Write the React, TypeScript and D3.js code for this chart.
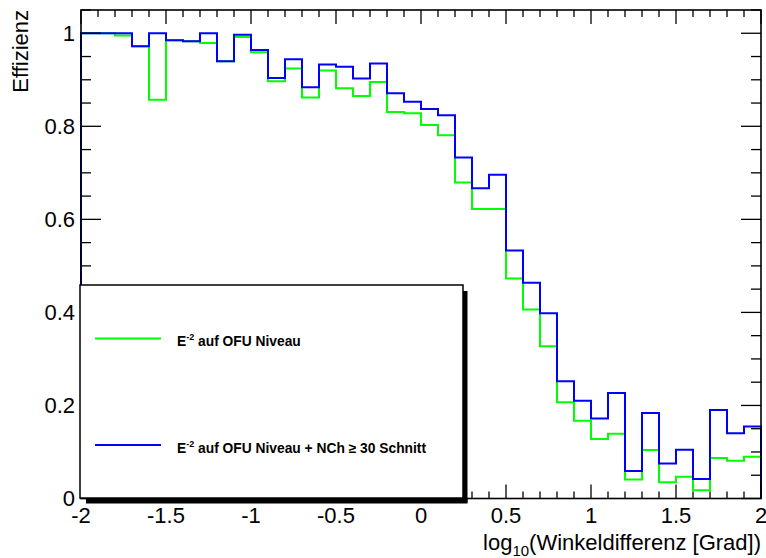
import React from "react";
import * as d3 from "d3";

// Efficiency per bin of log10(angular difference), 40 bins of 0.1 from -2 to 2
const binEdgesStart = -2;
const binWidth = 0.1;

const effOFU = [
  1.0, 1.0, 0.995, 0.972, 0.857, 0.985, 0.983, 0.979, 0.94, 0.992,
  0.959, 0.897, 0.924, 0.862, 0.92, 0.882, 0.865, 0.895, 0.831, 0.828,
  0.803, 0.781, 0.679, 0.622, 0.622, 0.473, 0.406, 0.327, 0.207, 0.167,
  0.128, 0.139, 0.041, 0.104, 0.035, 0.047, 0.018, 0.087, 0.081, 0.09,
];

const effOFUNCh = [
  1.0, 1.0, 1.0, 0.972, 1.0, 0.985, 0.983, 1.0, 0.94, 0.997,
  0.964, 0.904, 0.944, 0.884, 0.933, 0.928, 0.903, 0.935, 0.871, 0.853,
  0.837, 0.824, 0.733, 0.667, 0.696, 0.533, 0.464, 0.398, 0.252, 0.21,
  0.172, 0.227, 0.059, 0.184, 0.075, 0.105, 0.042, 0.19, 0.14, 0.155,
];

const xTickLabels = ["-2", "-1.5", "-1", "-0.5", "0", "0.5", "1", "1.5", "2"];
const yTickLabels = ["0", "0.2", "0.4", "0.6", "0.8", "1"];

const W = 766;
const H = 558;
const left = 81;
const right = 761;
const top = 10;
const bottom = 498.5;

const font = "'Liberation Sans', Arial, Helvetica, sans-serif";

const x = d3.scaleLinear().domain([-2, 2]).range([left, right]);
const y = d3.scaleLinear().domain([0, 1.05]).range([bottom, top]);

function histPoints(vals: number[]): [number, number][] {
  const pts: [number, number][] = [[binEdgesStart, 0]];
  vals.forEach((v, i) => {
    const x0 = binEdgesStart + i * binWidth;
    pts.push([x0, v]);
    pts.push([x0 + binWidth, v]);
  });
  pts.push([binEdgesStart + vals.length * binWidth, 0]);
  return pts;
}

const line = d3
  .line<[number, number]>()
  .x((d) => x(d[0]))
  .y((d) => y(d[1]));

export default function App() {
  const xMinor = d3.range(0, 41).map((i) => -2 + i * 0.1);
  const yMinor = d3.range(0, 22).map((i) => i * 0.05).filter((v) => v <= 1.05 + 1e-9);

  const isMajorX = (v: number) => Math.abs(v * 2 - Math.round(v * 2)) < 1e-6;
  const isMajorY = (v: number) => Math.abs(v * 5 - Math.round(v * 5)) < 1e-6;

  const tickColor = "#000";

  // legend box
  const lg = { x0: 80, y0: 285, x1: 463, y1: 498 };
  const sh = 4.5;

  return (
    <svg
      width={W}
      height={H}
      style={{ position: "absolute", left: 0, top: 0, background: "#fff" }}
      fontFamily={font}
    >
      <rect x={0} y={0} width={W} height={H} fill="#fff" />

      {/* histograms */}
      <path d={line(histPoints(effOFU)) || ""} fill="none" stroke="#00ff00" strokeWidth={2} />
      <path d={line(histPoints(effOFUNCh)) || ""} fill="none" stroke="#0000ff" strokeWidth={2} />

      {/* frame */}
      <rect
        x={left}
        y={top}
        width={right - left}
        height={bottom - top}
        fill="none"
        stroke="#000"
        strokeWidth={1.6}
      />

      {/* x ticks, bottom and top */}
      {xMinor.map((v, i) => {
        const len = isMajorX(v) ? 14 : 7;
        return (
          <g key={"xt" + i}>
            <line x1={x(v)} x2={x(v)} y1={bottom} y2={bottom - len} stroke={tickColor} strokeWidth={1.3} />
            <line x1={x(v)} x2={x(v)} y1={top} y2={top + len} stroke={tickColor} strokeWidth={1.3} />
          </g>
        );
      })}

      {/* y ticks, left and right */}
      {yMinor.map((v, i) => {
        const len = isMajorY(v) ? 20 : 10;
        return (
          <g key={"yt" + i}>
            <line x1={left} x2={left + len} y1={y(v)} y2={y(v)} stroke={tickColor} strokeWidth={1.3} />
            <line x1={right} x2={right - len} y1={y(v)} y2={y(v)} stroke={tickColor} strokeWidth={1.3} />
          </g>
        );
      })}

      {/* x tick labels */}
      {xTickLabels.map((t) => (
        <text key={"xl" + t} x={x(+t)} y={523} textAnchor="middle" fontSize={22} fill="#000">
          {t}
        </text>
      ))}

      {/* y tick labels */}
      {yTickLabels.map((t) => (
        <text key={"yl" + t} x={75} y={y(+t) + 7.5} textAnchor="end" fontSize={22} fill="#000">
          {t}
        </text>
      ))}

      {/* axis titles */}
      <text x={761} y={550} textAnchor="end" fontSize={22} fill="#000">
        log
        <tspan fontSize={15} dy={6}>10</tspan>
        <tspan dy={-6}>(Winkeldifferenz [Grad])</tspan>
      </text>
      <text
        transform="translate(28,10) rotate(-90)"
        textAnchor="end"
        fontSize={22}
        fill="#000"
      >
        Effizienz
      </text>

      {/* legend */}
      <rect x={lg.x1} y={lg.y0 + 6} width={sh} height={lg.y1 - lg.y0 - 6 + sh} fill="#000" />
      <rect x={lg.x0 + 6} y={lg.y1} width={lg.x1 - lg.x0 - 6 + sh} height={sh + 1} fill="#000" />
      <rect
        x={lg.x0}
        y={lg.y0}
        width={lg.x1 - lg.x0}
        height={lg.y1 - lg.y0}
        fill="#fff"
        stroke="#000"
        strokeWidth={1.5}
      />
      <line x1={95} x2={161} y1={338.5} y2={338.5} stroke="#00ff00" strokeWidth={2} />
      <line x1={95} x2={161} y1={445} y2={445} stroke="#0000ff" strokeWidth={2} />
      <text x={177} y={345.5} fontSize={13.8} fontWeight="bold" fill="#000">
        E<tspan fontSize={9} dy={-5.5}>-2</tspan>
        <tspan dy={5.5}> auf OFU Niveau</tspan>
      </text>
      <text x={177} y={452.5} fontSize={13.8} fontWeight="bold" fill="#000">
        E<tspan fontSize={9} dy={-5.5}>-2</tspan>
        <tspan dy={5.5}> auf OFU Niveau + NCh ≥ 30 Schnitt</tspan>
      </text>
    </svg>
  );
}
